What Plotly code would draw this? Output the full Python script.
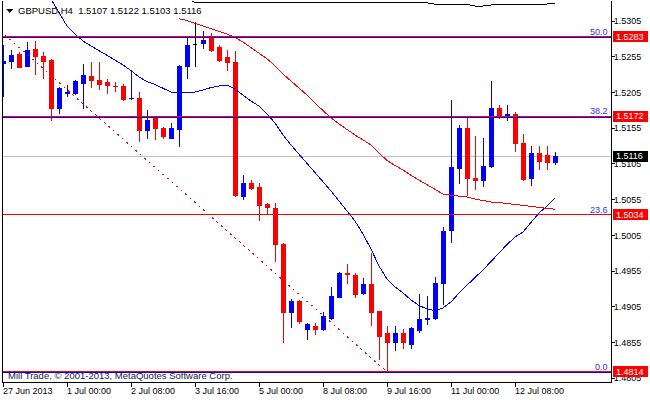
import plotly.graph_objects as go

# ---------------- data ----------------
bars = list(range(70))
opens = [1.5246, 1.5248, 1.5258, 1.5241, 1.5265, 1.5256, 1.5250, 1.5182, 1.5204, 1.5204,
         1.5218, 1.5228, 1.5222, 1.5219, 1.5214, 1.5213, 1.5196, 1.5197, 1.5152, 1.5168,
         1.5154, 1.5141, 1.5153, 1.5241, 1.5272, 1.5273, 1.5282, 1.5268, 1.5254, 1.5247,
         1.5060, 1.5078, 1.5072, 1.5048, 1.5043, 1.4992, 1.4897, 1.4913, 1.4873, 1.4878,
         1.4873, 1.4888, 1.4918, 1.4952, 1.4949, 1.4923, 1.4936, 1.4898, 1.4867, 1.4855,
         1.4867, 1.4853, 1.4872, 1.4887, 1.4888, 1.4937, 1.5012, 1.5098, 1.5155, 1.5084,
         1.5082, 1.5101, 1.5182, 1.5170, 1.5174, 1.5133, 1.5084, 1.5120, 1.5117, 1.5107]
highs = [1.5271, 1.5265, 1.5262, 1.5275, 1.5277, 1.5261, 1.5252, 1.5212, 1.5215, 1.5222,
         1.5245, 1.5247, 1.5248, 1.5224, 1.5220, 1.5217, 1.5236, 1.5206, 1.5180, 1.5169,
         1.5156, 1.5162, 1.5244, 1.5281, 1.5304, 1.5291, 1.5288, 1.5271, 1.5265, 1.5263,
         1.5090, 1.5083, 1.5078, 1.5051, 1.5051, 1.4995, 1.4916, 1.4915, 1.4882, 1.4882,
         1.4898, 1.4933, 1.4954, 1.4965, 1.4953, 1.4945, 1.4980, 1.4898, 1.4878, 1.4878,
         1.4874, 1.4877, 1.4923, 1.4920, 1.4947, 1.5017, 1.5194, 1.5159, 1.5170, 1.5144,
         1.5141, 1.5221, 1.5188, 1.5188, 1.5178, 1.5147, 1.5130, 1.5130, 1.5130, 1.5122]
lows = [1.5199, 1.5238, 1.5239, 1.5240, 1.5230, 1.5224, 1.5165, 1.5175, 1.5199, 1.5202,
        1.5182, 1.5211, 1.5209, 1.5203, 1.5205, 1.5193, 1.5194, 1.5135, 1.5140, 1.5138,
        1.5140, 1.5140, 1.5128, 1.5224, 1.5241, 1.5266, 1.5261, 1.5248, 1.5235, 1.5059,
        1.5054, 1.5068, 1.5025, 1.5034, 1.4968, 1.4855, 1.4876, 1.4881, 1.4858, 1.4866,
        1.4871, 1.4887, 1.4917, 1.4937, 1.4918, 1.4921, 1.4878, 1.4831, 1.4814, 1.4843,
        1.4846, 1.4846, 1.4869, 1.4879, 1.4887, 1.4908, 1.4995, 1.5077, 1.5060, 1.5068,
        1.5073, 1.5099, 1.5168, 1.5165, 1.5122, 1.5081, 1.5074, 1.5097, 1.5097, 1.5103]
closes = [1.5248, 1.5257, 1.5240, 1.5264, 1.5255, 1.5248, 1.5182, 1.5211, 1.5205, 1.5220,
          1.5229, 1.5222, 1.5216, 1.5215, 1.5213, 1.5195, 1.5197, 1.5152, 1.5166, 1.5154,
          1.5143, 1.5155, 1.5242, 1.5271, 1.5272, 1.5278, 1.5264, 1.5250, 1.5247, 1.5061,
          1.5078, 1.5070, 1.5047, 1.5044, 1.4992, 1.4897, 1.4912, 1.4884, 1.4880, 1.4873,
          1.4891, 1.4920, 1.4951, 1.4950, 1.4922, 1.4936, 1.4897, 1.4864, 1.4855, 1.4867,
          1.4855, 1.4874, 1.4887, 1.4889, 1.4937, 1.5010, 1.5100, 1.5155, 1.5084, 1.5082,
          1.5101, 1.5183, 1.5171, 1.5174, 1.5133, 1.5083, 1.5120, 1.5108, 1.5107, 1.5116]

ma_fast_bars = list(range(6, 70))
ma_fast = [1.53358, 1.53176, 1.52980, 1.52868, 1.52770, 1.52700, 1.52637, 1.52574, 1.52504, 1.52434,
           1.52357, 1.52266, 1.52203, 1.52161, 1.52112, 1.52056, 1.52042, 1.52049, 1.52056, 1.52084,
           1.52119, 1.52140, 1.52154, 1.52098, 1.52014, 1.51930, 1.51860, 1.51749, 1.51623, 1.51455,
           1.51315, 1.51189, 1.51063, 1.50937, 1.50797, 1.50671, 1.50531, 1.50391, 1.50251, 1.50069,
           1.49859, 1.49621, 1.49440, 1.49328, 1.49244, 1.49146, 1.49069, 1.49020, 1.48999, 1.49034,
           1.49118, 1.49244, 1.49356, 1.49461, 1.49565, 1.49677, 1.49803, 1.49922, 1.50027, 1.50097,
           1.50223, 1.50363, 1.50461, 1.50573]

ma_slow_bars = list(range(22, 70))
ma_slow = [1.53082, 1.53056, 1.53018, 1.52980, 1.52944, 1.52906, 1.52868, 1.52819, 1.52756, 1.52678,
           1.52602, 1.52521, 1.52424, 1.52308, 1.52210, 1.52112, 1.52014, 1.51902, 1.51793, 1.51693,
           1.51609, 1.51530, 1.51455, 1.51385, 1.51315, 1.51203, 1.51098, 1.51028, 1.50965, 1.50889,
           1.50825, 1.50755, 1.50685, 1.50629, 1.50612, 1.50598, 1.50587, 1.50559, 1.50535, 1.50517,
           1.50510, 1.50496, 1.50482, 1.50468, 1.50458, 1.50447, 1.50429, 1.50415]

ma_long_bars = list(range(23, 70))
ma_long = [1.53360] + [1.53312] * 27 + [1.53308, 1.53308, 1.53305, 1.53285, 1.53281, 1.53281,
           1.53281, 1.53281, 1.53260, 1.53260, 1.53274, 1.53274, 1.53274, 1.53274, 1.53274,
           1.53274, 1.53274, 1.53288, 1.53288]

fib_anchor_bars = [-47, 48]
fib_anchor_prices = [1.5752, 1.4814]

level_names = ["50.0", "38.2", "23.6", "0.0"]
level_prices = [1.5283, 1.5172, 1.5034, 1.4814]
level_has_fib_line = [True, True, False, True]
bid_price = 1.5116

y_tick_vals = [1.5305, 1.5255, 1.5205, 1.5155, 1.5105, 1.5055, 1.5005, 1.4955, 1.4905, 1.4855, 1.4805]
x_tick_bars = [0, 8, 16, 24, 32, 40, 48, 56, 64]
x_tick_labels = ["27 Jun 2013", "1 Jul 00:00", "2 Jul 08:00", "3 Jul 16:00", "5 Jul 00:00",
                 "8 Jul 08:00", "9 Jul 16:00", "11 Jul 00:00", "12 Jul 08:00"]

title_text = "GBPUSD,H4\u00a0 1.5107 1.5122 1.5103 1.5116"
copyright_text = "Mill Trade, \u00a9 2001-2013, MetaQuotes Software Corp."

# ---------------- styling ----------------
FONT = "Liberation Sans, Arial, sans-serif"
BLUE = "#0000ff"
RED = "#ff0000"

fig = go.Figure()


def candle_trace(cond, color):
    idx = [i for i in range(len(bars)) if cond(opens[i], closes[i])]
    side = dict(line=dict(color=color, width=1), fillcolor=color)
    return go.Candlestick(
        x=[bars[i] for i in idx],
        open=[opens[i] for i in idx],
        high=[highs[i] for i in idx],
        low=[lows[i] for i in idx],
        close=[closes[i] for i in idx],
        increasing=side, decreasing=side,
        whiskerwidth=0, hoverinfo="skip", showlegend=False,
    )


fig.add_trace(candle_trace(lambda o, c: c > o, BLUE))
fig.add_trace(candle_trace(lambda o, c: c < o, RED))
fig.add_trace(candle_trace(lambda o, c: c == o, "#000000"))

fig.add_trace(go.Scatter(x=ma_fast_bars, y=ma_fast, mode="lines",
                         line=dict(color=BLUE, width=1), hoverinfo="skip", showlegend=False))
fig.add_trace(go.Scatter(x=ma_slow_bars, y=ma_slow, mode="lines",
                         line=dict(color=RED, width=1), hoverinfo="skip", showlegend=False))
fig.add_trace(go.Scatter(x=ma_long_bars, y=ma_long, mode="lines",
                         line=dict(color="#000000", width=1), hoverinfo="skip", showlegend=False))
fig.add_trace(go.Scatter(x=fib_anchor_bars, y=fib_anchor_prices, mode="lines",
                         line=dict(color=RED, width=1, dash="2px,4px"),
                         hoverinfo="skip", showlegend=False))

shapes = []
annotations = []

# bid line
shapes.append(dict(type="line", xref="paper", x0=0, x1=1, yref="y", y0=bid_price, y1=bid_price,
                   line=dict(color="#c0c0c0", width=1), layer="below"))

for name, price, fibline in zip(level_names, level_prices, level_has_fib_line):
    shapes.append(dict(type="line", xref="paper", x0=0, x1=1, yref="y", y0=price, y1=price,
                       line=dict(color=RED, width=1), layer="above"))
    if fibline:
        shapes.append(dict(type="line", xref="paper", x0=0, x1=1, yref="y",
                           ysizemode="pixel", yanchor=price, y0=-1, y1=-1,
                           line=dict(color=BLUE, width=1), layer="above"))
    annotations.append(dict(text=name, xref="paper", x=1, xanchor="right", xshift=-1,
                            yref="y", y=price, yanchor="middle", yshift=5, showarrow=False,
                            font=dict(family=FONT, size=9, color="#3030ff")))
    # price box on the axis
    shapes.append(dict(type="rect", xref="paper", xsizemode="pixel", xanchor=1, x0=1.5, x1=37,
                       yref="y", ysizemode="pixel", yanchor=price, y0=-5.5, y1=5.5,
                       fillcolor=RED, line=dict(width=0), layer="above"))
    annotations.append(dict(text="%.4f" % price, xref="paper", x=1, xanchor="left", xshift=3,
                            yref="y", y=price, yanchor="middle", showarrow=False,
                            font=dict(family=FONT, size=9, color="#ffffff")))

shapes.append(dict(type="rect", xref="paper", xsizemode="pixel", xanchor=1, x0=1.5, x1=37,
                   yref="y", ysizemode="pixel", yanchor=bid_price, y0=-5.5, y1=5.5,
                   fillcolor="#000000", line=dict(width=0), layer="above"))
annotations.append(dict(text="%.4f" % bid_price, xref="paper", x=1, xanchor="left", xshift=3,
                        yref="y", y=bid_price, yanchor="middle", showarrow=False,
                        font=dict(family=FONT, size=9, color="#ffffff")))

# left frame line
shapes.append(dict(type="line", xref="paper", x0=0, x1=0, yref="paper", y0=0, y1=1,
                   line=dict(color="#000000", width=1), layer="above"))

# small triangle before the title
shapes.append(dict(type="path", xref="paper", xsizemode="pixel", xanchor=0,
                   yref="paper", ysizemode="pixel", yanchor=1,
                   path="M4.5,-8 L11,-8 L7.75,-11.5 Z", fillcolor="#000000",
                   line=dict(color="#000000", width=0.5)))

annotations.append(dict(text=title_text, xref="paper", x=0, xanchor="left", xshift=14,
                        yref="paper", y=1, yanchor="middle", yshift=-9.5, showarrow=False,
                        font=dict(family=FONT, size=9.5, color="#000000")))
annotations.append(dict(text=copyright_text, xref="paper", x=0, xanchor="left", xshift=4,
                        yref="paper", y=0, yanchor="middle", yshift=7, showarrow=False,
                        font=dict(family=FONT, size=9.5, color="#1c1c3c")))

for b, lab in zip(x_tick_bars, x_tick_labels):
    annotations.append(dict(text=lab, xref="x", x=b, xanchor="left", xshift=-2,
                            yref="paper", y=0, yanchor="middle", yshift=-9, showarrow=False,
                            font=dict(family=FONT, size=9, color="#000000")))

fig.update_layout(
    width=650, height=400, autosize=False,
    margin=dict(l=2, r=39, t=1, b=18, pad=0),
    paper_bgcolor="#ffffff", plot_bgcolor="#ffffff",
    showlegend=False,
    boxgap=0.5, boxgroupgap=0,
    shapes=shapes, annotations=annotations,
    font=dict(family=FONT, size=9, color="#000000"),
    xaxis=dict(range=[-0.125, 76], fixedrange=True, showgrid=False, zeroline=False,
               showline=True, linecolor="#000000", linewidth=1,
               ticks="outside", ticklen=4, tickcolor="#000000", tickwidth=1,
               tickvals=x_tick_bars, showticklabels=False,
               rangeslider=dict(visible=False)),
    yaxis=dict(range=[1.479982, 1.533299], fixedrange=True, side="right",
               showgrid=False, zeroline=False,
               showline=True, linecolor="#000000", linewidth=1,
               ticks="outside", ticklen=3, tickcolor="#000000", tickwidth=1,
               ticklabelstandoff=-3,
               tickvals=y_tick_vals, ticktext=["%.4f" % v for v in y_tick_vals],
               tickfont=dict(family=FONT, size=9, color="#000000")),
)

page_script = (
    "document.body.style.margin='0';document.body.style.padding='0';"
    "document.body.style.overflow='hidden';"
    "var st=document.createElement('style');"
    "st.innerHTML='.main-svg path{shape-rendering:crispEdges;}';"
    "document.head.appendChild(st);"
)

fig.write_html("out.html", config={"displayModeBar": False}, post_script=page_script)
